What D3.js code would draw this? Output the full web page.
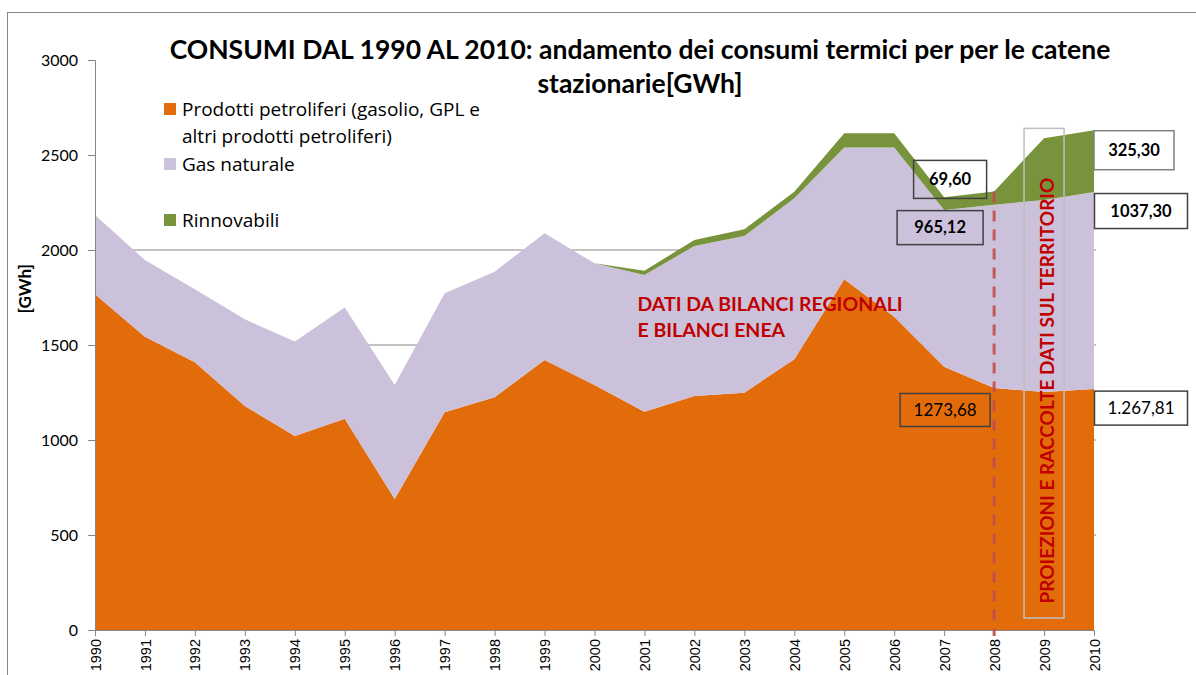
<!DOCTYPE html>
<html>
<head>
<meta charset="utf-8">
<script src="https://cdn.jsdelivr.net/npm/d3@7"></script>
<style>
  body { margin: 0; background: #fff; }
  svg { display: block; font-family: Lato, 'Open Sans', sans-serif; }
</style>
</head>
<body>
<svg width="1196" height="675"></svg>
<script>
const years = [1990, 1991, 1992, 1993, 1994, 1995, 1996, 1997, 1998, 1999, 2000,
  2001, 2002, 2003, 2004, 2005, 2006, 2007, 2008, 2009, 2010]

// [GWh]
const petroliferi = [1767, 1544, 1409, 1179, 1021, 1112, 689, 1146, 1225, 1421, 1289,
  1149, 1232, 1249, 1425, 1846, 1649, 1386, 1273.68, 1253, 1267.81]
const gasNaturale = [417, 403, 384, 456, 498, 586, 600, 626, 661, 667, 641,
  719, 789, 825, 847, 694, 891, 825, 965.12, 1010, 1037.3]
const rinnovabili = [0, 0, 0, 0, 0, 0, 0, 0, 0, 0, 0,
  23, 32, 35, 35, 74, 74, 66, 69.6, 325, 325.3]

const yTicks = [0, 500, 1000, 1500, 2000, 2500, 3000]
const gridTicks = [500, 1000, 1500, 2000]

const colors = ['#e36c0a', '#ccc1da', '#77933c']

const svg = d3.select('svg')
const margin = { top: 60, right: 102, bottom: 45, left: 95 }
const width = svg.attr('width') - margin.left - margin.right
const height = svg.attr('height') - margin.top - margin.bottom

// outer frame
svg.append('rect')
  .attr('x', 7.5).attr('y', 12.5)
  .attr('width', 1200).attr('height', 700)
  .attr('fill', 'none').attr('stroke', '#868686')

const g = svg.append('g')
  .attr('transform', 'translate(' + margin.left + ',' + margin.top + ')')

const x = d3.scaleLinear().domain([1990, 2010]).range([0, width])
const y = d3.scaleLinear().domain([0, 3000]).range([height, 0])

const keys = ['petroliferi', 'gas', 'rinnovabili']
const rows = years.map((yr, i) => ({
  year: yr, petroliferi: petroliferi[i], gas: gasNaturale[i], rinnovabili: rinnovabili[i]
}))
const stacked = d3.stack().keys(keys)(rows)

// gridlines (behind areas)
g.append('g')
  .selectAll('line')
  .data(gridTicks)
  .enter()
  .append('line')
  .attr('x1', 0).attr('x2', width + 2)
  .attr('y1', d => y(d)).attr('y2', d => y(d))
  .attr('stroke', '#868686')

const area = d3.area()
  .x(d => x(d.data.year))
  .y0(d => y(d[0]))
  .y1(d => y(d[1]))

g.append('g')
  .selectAll('path')
  .data(stacked)
  .enter()
  .append('path')
  .attr('d', area)
  .attr('fill', (d, i) => colors[i])

// axes
const yAxis = g.append('g')
  .call(d3.axisLeft(y).tickValues(yTicks).tickFormat(d3.format('d')).tickSize(7).tickPadding(10))
yAxis.select('.domain').attr('stroke', '#868686')
yAxis.selectAll('.tick line').attr('stroke', '#868686')
yAxis.selectAll('text')
  .attr('font-family', 'Lato, sans-serif')
  .attr('font-size', 16)
  .attr('fill', '#000')

const xAxis = g.append('g')
  .attr('transform', 'translate(0,' + height + ')')
  .call(d3.axisBottom(x).tickValues(years).tickFormat(d3.format('d')).tickSize(6))
xAxis.select('.domain').attr('stroke', '#868686')
xAxis.selectAll('.tick line').attr('stroke', '#868686')
xAxis.selectAll('text')
  .attr('font-family', "'Liberation Sans', Arial, sans-serif")
  .attr('font-size', 14.5)
  .attr('fill', '#000')
  .attr('text-anchor', 'end')
  .attr('transform', 'rotate(-90)')
  .attr('x', -9)
  .attr('y', 0)
  .attr('dy', '0.35em')

// y axis title
svg.append('text')
  .attr('transform', 'translate(31,' + y(1480) + ') rotate(-90)')
  .attr('text-anchor', 'middle')
  .attr('font-size', 17)
  .attr('font-weight', 'bold')
  .text('[GWh]')

// title
const title = svg.append('text')
  .attr('text-anchor', 'middle')
  .attr('font-size', 26.5)
  .attr('font-weight', 'bold')
title.append('tspan').attr('x', 640).attr('y', 59)
  .text('CONSUMI DAL 1990 AL 2010: andamento dei consumi termici per per le catene')
title.append('tspan').attr('x', 640).attr('y', 93)
  .text('stazionarie[GWh]')

// legend
const legendItems = [
  { lines: ['Prodotti petroliferi (gasolio, GPL e', 'altri prodotti petroliferi)'], color: colors[0], y: 116 },
  { lines: ['Gas naturale'], color: colors[1], y: 171 },
  { lines: ['Rinnovabili'], color: colors[2], y: 227 }
]
const legend = svg.append('g')
legendItems.forEach(item => {
  legend.append('rect')
    .attr('x', 164).attr('y', item.y - 13)
    .attr('width', 12).attr('height', 12)
    .attr('fill', item.color)
  item.lines.forEach((line, j) => {
    legend.append('text')
      .attr('x', 182).attr('y', item.y + j * 27)
      .attr('font-family', "'Open Sans', sans-serif")
      .attr('font-size', 19)
      .attr('fill', '#000')
      .text(line)
  })
})

// regional data note
const note = g.append('text')
  .attr('fill', '#c00000')
  .attr('font-size', 19.5)
  .attr('font-weight', 'bold')
note.append('tspan').attr('x', x(2000.86)).attr('y', y(1680)).text('DATI DA BILANCI REGIONALI')
note.append('tspan').attr('x', x(2000.86)).attr('y', y(1680) + 26).text('E BILANCI ENEA')

// dashed line at 2008
const i2008 = years.indexOf(2008)
g.append('line')
  .attr('x1', x(2008)).attr('x2', x(2008))
  .attr('y1', y(stacked[2][i2008][1]))
  .attr('y2', height + 6)
  .attr('stroke', '#c0504d')
  .attr('stroke-width', 3)
  .attr('stroke-dasharray', '11,8')
  .attr('opacity', 0.9)

// projections box
const projBox = g.append('g').attr('transform', 'translate(' + x(2009) + ',0)')
projBox.append('rect')
  .attr('x', -20).attr('y', y(2640))
  .attr('width', 40).attr('height', y(63) - y(2640))
  .attr('fill', 'none')
  .attr('stroke', '#bfbfbf')
  .attr('stroke-width', 1.5)
projBox.append('text')
  .attr('transform', 'translate(10,' + y(1260) + ') rotate(-90)')
  .attr('text-anchor', 'middle')
  .attr('fill', '#c00000')
  .attr('font-size', 19)
  .attr('font-weight', 'bold')
  .text('PROIEZIONI E RACCOLTE DATI SUL TERRITORIO')

// value callouts
function callout (cx, cy, w, h, label, opts) {
  const c = g.append('g').attr('transform', 'translate(' + cx + ',' + cy + ')')
  c.append('rect')
    .attr('x', -w / 2).attr('y', -h / 2)
    .attr('width', w).attr('height', h)
    .attr('fill', opts.fill || 'none')
    .attr('stroke', opts.stroke || '#404040')
    .attr('stroke-width', 1.5)
  c.append('text')
    .attr('text-anchor', 'middle')
    .attr('dy', '0.35em')
    .attr('font-size', opts.bold ? 16.5 : 17)
    .attr('font-weight', opts.bold ? 'bold' : 'normal')
    .attr('fill', '#000')
    .text(label)
}

const x08 = x(2008)
const x10 = x(2010)
callout(x08 - 44, y(stacked[2][i2008][1]) - 12, 73, 38, '69,60', { bold: true })
callout(x08 - 54, y(stacked[1][i2008][1]) + 23, 86, 34, '965,12', { bold: true })
callout(x08 - 49, y(petroliferi[i2008]) + 22, 90, 33, '1273,68', {})
callout(x10 + 40, y(stacked[2][20][1]) + 20, 80, 39, '325,30', { bold: true, fill: '#fff', stroke: '#7f7f7f' })
callout(x10 + 47, y(stacked[1][20][1]) + 19, 93, 35, '1037,30', { bold: true, fill: '#fff' })
callout(x10 + 47, y(petroliferi[20]) + 19, 93, 34, '1.267,81', { fill: '#fff' })
</script>
</body>
</html>
